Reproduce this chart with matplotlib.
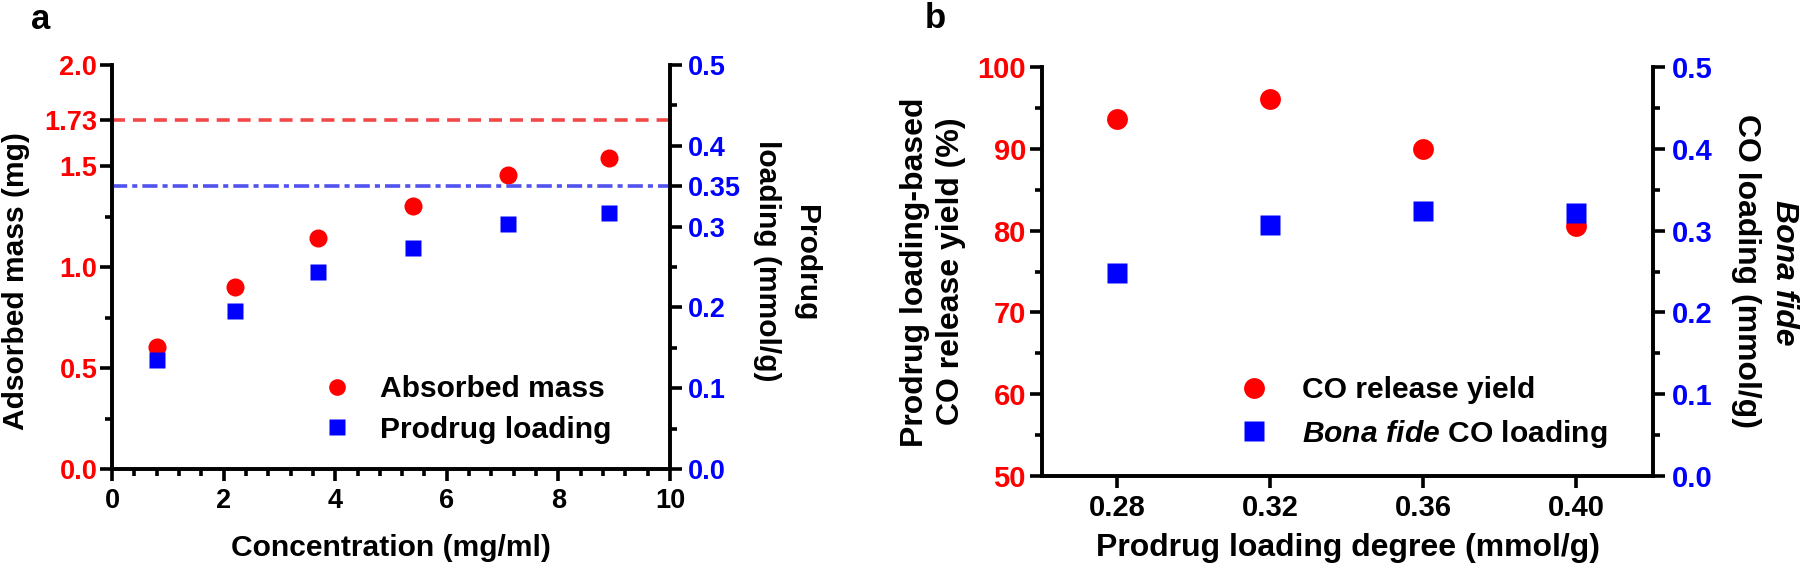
import matplotlib
matplotlib.use('Agg')
import matplotlib.pyplot as plt
from matplotlib.lines import Line2D

plt.rcParams['font.family'] = ['Liberation Sans', 'DejaVu Sans']
plt.rcParams['font.weight'] = 'bold'
plt.rcParams['mathtext.fontset'] = 'custom'
plt.rcParams['mathtext.rm'] = 'Liberation Sans:bold'
plt.rcParams['mathtext.it'] = 'Liberation Sans:italic:bold'

# ---------------- data ----------------
# panel a
conc = [0.8, 2.2, 3.7, 5.4, 7.1, 8.9]
absorbed_mass = [0.606, 0.901, 1.146, 1.303, 1.457, 1.539]
prodrug_loading = [0.135, 0.196, 0.244, 0.274, 0.303, 0.317]
mass_ref = 1.73
loading_ref = 0.35
a_xticks = [0, 2, 4, 6, 8, 10]
a_left_ticks = [0.0, 0.5, 1.0, 1.5, 1.73, 2.0]
a_left_labels = ['0.0', '0.5', '1.0', '1.5', '1.73', '2.0']
a_right_ticks = [0.0, 0.1, 0.2, 0.3, 0.35, 0.4, 0.5]
a_right_labels = ['0.0', '0.1', '0.2', '0.3', '0.35', '0.4', '0.5']

# panel b
loading_degree = [0.28, 0.32, 0.36, 0.40]
loading_degree_labels = ['0.28', '0.32', '0.36', '0.40']
co_release_yield = [93.7, 96.1, 90.0, 80.6]
bona_fide_loading = [0.248, 0.307, 0.324, 0.322]
b_left_ticks = [50, 60, 70, 80, 90, 100]
b_right_ticks = [0.0, 0.1, 0.2, 0.3, 0.4, 0.5]

# ---------------- layout helpers ----------------
W, H = 1800, 566
fig = plt.figure(figsize=(W / 100, H / 100), dpi=100)


def rect(l, t, r, b):
    return [l / W, 1 - b / H, (r - l) / W, (b - t) / H]


def fx(x):
    return x / W


def fy(y):
    return 1 - y / H


RED = '#ff0000'
BLUE = '#0000ff'
LW = 2.6


def style_axes(ax, ax2):
    for a in (ax, ax2):
        a.spines['top'].set_visible(False)
        for s in ('left', 'right', 'bottom'):
            a.spines[s].set_linewidth(LW)
            a.spines[s].set_color('black')
        a.patch.set_visible(False)
    for a in (ax, ax2):
        a.tick_params(which='major', length=8.6, width=LW, direction='out')
        a.tick_params(which='minor', length=5, width=LW, direction='out')


# ---------------- panel a ----------------
axa = fig.add_axes(rect(112, 65, 670, 469))
axa2 = axa.twinx()
style_axes(axa, axa2)
axa.set_xlim(0, 10)
axa.set_ylim(0, 2)
axa2.set_ylim(0, 0.5)

axa.axhline(mass_ref, color='#f24848', lw=LW, ls=(0, (3.6, 2.2)), zorder=1)
axa2.axhline(loading_ref, color='#5252f0', lw=LW, ls=(0, (4.2, 1.4, 1.4, 1.4)), zorder=1)

axa.plot(conc, absorbed_mass, 'o', color=RED, markersize=13, mec='none', zorder=3)
axa2.plot(conc, prodrug_loading, 's', color=BLUE, markersize=12, mec='none', zorder=3)

axa.set_xticks(a_xticks)
axa.set_xticklabels([str(v) for v in a_xticks])
axa.set_xticks([v * 0.4 for v in range(26) if v % 5 != 0], minor=True)
axa.set_yticks(a_left_ticks)
axa.set_yticklabels(a_left_labels)
axa.set_yticks([0.25, 0.75, 1.25], minor=True)
axa2.set_yticks(a_right_ticks)
axa2.set_yticklabels(a_right_labels)
axa2.set_yticks([0.05, 0.15, 0.25, 0.45], minor=True)

TSA = 19.5
axa.tick_params(axis='x', labelsize=TSA, pad=5, labelcolor='black')
axa.tick_params(axis='y', labelsize=TSA, pad=2, labelcolor=RED)
axa2.tick_params(axis='y', labelsize=TSA, pad=4, labelcolor=BLUE)
for lab in axa.get_xticklabels() + axa.get_yticklabels() + axa2.get_yticklabels():
    lab.set_fontweight('bold')

ha = [Line2D([], [], marker='o', ls='none', color=RED, mec='none', markersize=12),
      Line2D([], [], marker='s', ls='none', color=BLUE, mec='none', markersize=12)]
axa2.legend(ha, ['Absorbed mass', 'Prodrug loading'], loc='center left',
            bbox_to_anchor=(fx(322), fy(409.5)), bbox_transform=fig.transFigure,
            frameon=False, borderpad=0, borderaxespad=0, handlelength=1.0,
            handletextpad=0.93, labelspacing=0.42,
            prop={'size': 21.6, 'weight': 'bold'})

fig.text(fx(391), fy(556), 'Concentration (mg/ml)', ha='center', va='baseline',
         fontsize=21.6, fontweight='bold')
fig.text(fx(16), fy(281), 'Adsorbed mass (mg)', ha='center', va='center',
         rotation=90, fontsize=21.6, fontweight='bold')
fig.text(fx(806), fy(263), 'Prodrug', ha='center', va='center',
         rotation=270, fontsize=21.6, fontweight='bold')
fig.text(fx(767), fy(261), 'loading (mmol/g)', ha='center', va='center',
         rotation=270, fontsize=21.6, fontweight='bold')
fig.text(fx(31), fy(29), 'a', ha='left', va='baseline', fontsize=25, fontweight='bold')

# ---------------- panel b ----------------
axb = fig.add_axes(rect(1042, 67, 1653, 476))
axb2 = axb.twinx()
style_axes(axb, axb2)
axb.set_xlim(0.2604, 0.4201)
axb.set_ylim(50, 100)
axb2.set_ylim(0, 0.5)

axb.plot(loading_degree, co_release_yield, 'o', color=RED, markersize=15, mec='none', zorder=3)
axb2.plot(loading_degree, bona_fide_loading, 's', color=BLUE, markersize=14.4, mec='none', zorder=3)

axb.set_xticks(loading_degree)
axb.set_xticklabels(loading_degree_labels)
axb.set_yticks(b_left_ticks)
axb.set_yticklabels([str(v) for v in b_left_ticks])
axb.set_yticks([55, 65, 75, 85, 95], minor=True)
axb2.set_yticks(b_right_ticks)
axb2.set_yticklabels(['%.1f' % v for v in b_right_ticks])
axb2.set_yticks([0.05, 0.15, 0.25, 0.35, 0.45], minor=True)

axb.tick_params(axis='x', labelsize=21, pad=4, labelcolor='black')
axb.tick_params(axis='y', labelsize=21, pad=3, labelcolor=RED)
axb2.tick_params(axis='y', labelsize=21, pad=5, labelcolor=BLUE)
for lab in axb.get_xticklabels() + axb.get_yticklabels() + axb2.get_yticklabels():
    lab.set_fontweight('bold')

hb = [Line2D([], [], marker='o', ls='none', color=RED, mec='none', markersize=15),
      Line2D([], [], marker='s', ls='none', color=BLUE, mec='none', markersize=14.4)]
axb2.legend(hb, ['CO release yield', r'$\it{Bona\ fide}$ CO loading'], loc='center left',
            bbox_to_anchor=(fx(1239), fy(413)), bbox_transform=fig.transFigure,
            frameon=False, borderpad=0, borderaxespad=0, handlelength=1.0,
            handletextpad=1.1, labelspacing=0.45,
            prop={'size': 21.6, 'weight': 'bold'})

fig.text(fx(1348), fy(556), 'Prodrug loading degree (mmol/g)', ha='center', va='baseline',
         fontsize=23, fontweight='bold')
fig.text(fx(915), fy(272), 'Prodrug loading-based', ha='center', va='center',
         rotation=90, fontsize=23, fontweight='bold')
fig.text(fx(951), fy(271), 'CO release yield (%)', ha='center', va='center',
         rotation=90, fontsize=23, fontweight='bold')
fig.text(fx(1784), fy(273), 'Bona fide', ha='center', va='center', style='italic',
         rotation=270, fontsize=23, fontweight='bold')
fig.text(fx(1746), fy(271), 'CO loading (mmol/g)', ha='center', va='center',
         rotation=270, fontsize=23, fontweight='bold')
fig.text(fx(925), fy(28), 'b', ha='left', va='baseline', fontsize=25, fontweight='bold')

fig.savefig('out.png', dpi=100)
